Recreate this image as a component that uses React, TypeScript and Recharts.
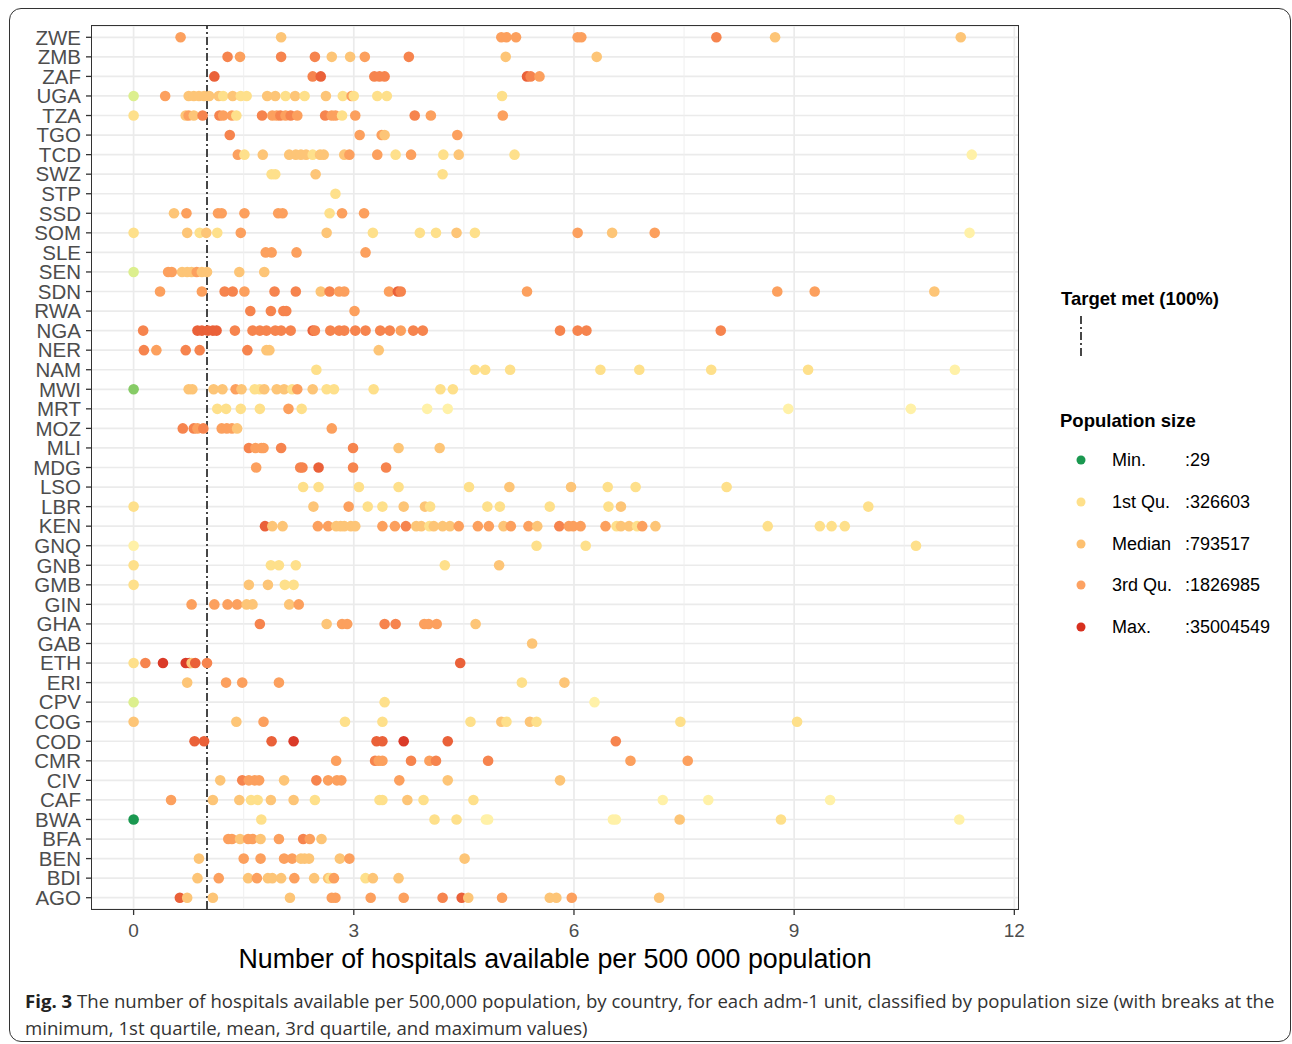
import { CartesianGrid, ReferenceLine, Scatter, ScatterChart, XAxis, YAxis } from 'recharts';

// countries bottom -> top (alphabetical, as on the y axis)
const countries = [
  'AGO', 'BDI', 'BEN', 'BFA', 'BWA', 'CAF', 'CIV', 'CMR', 'COD', 'COG', 'CPV', 'ERI', 'ETH', 'GAB', 'GHA',
  'GIN', 'GMB', 'GNB', 'GNQ', 'KEN', 'LBR', 'LSO', 'MDG', 'MLI', 'MOZ', 'MRT', 'MWI', 'NAM', 'NER', 'NGA',
  'RWA', 'SDN', 'SEN', 'SLE', 'SOM', 'SSD', 'STP', 'SWZ', 'TCD', 'TGO', 'TZA', 'UGA', 'ZAF', 'ZMB', 'ZWE',
];

// hospitals per 500 000 population, one value per adm-1 unit
const rates: number[][] = [
  [0.63, 0.73, 1.08, 2.13, 2.7, 2.75, 3.23, 3.68, 4.21, 4.47, 4.56, 5.02, 5.67, 5.76, 5.97, 7.16],
  [0.87, 1.16, 1.56, 1.68, 1.83, 1.89, 2.01, 2.19, 2.46, 2.65, 2.68, 2.73, 3.16, 3.26, 3.61],
  [0.89, 1.5, 1.73, 2.05, 2.16, 2.28, 2.33, 2.39, 2.81, 2.94, 4.51],
  [1.29, 1.34, 1.45, 1.56, 1.62, 1.73, 1.98, 2.31, 2.4, 2.56],
  [0, 1.74, 4.1, 4.4, 4.8, 4.83, 6.53, 6.57, 7.44, 8.82, 11.25],
  [0.51, 1.08, 1.44, 1.6, 1.69, 1.87, 2.18, 2.47, 3.35, 3.39, 3.73, 3.95, 4.63, 7.21, 7.83, 9.49],
  [1.18, 1.48, 1.57, 1.65, 1.71, 2.05, 2.49, 2.65, 2.77, 2.83, 3.62, 4.28, 5.81],
  [2.76, 3.29, 3.34, 3.39, 3.78, 4.03, 4.12, 4.83, 6.77, 7.55],
  [0.83, 0.96, 1.88, 2.18, 3.31, 3.39, 3.68, 4.28, 6.57],
  [0, 1.4, 1.77, 2.88, 3.39, 4.59, 5.01, 5.08, 5.4, 5.49, 7.45, 9.04],
  [0, 3.42, 6.28],
  [0.73, 1.26, 1.48, 1.98, 5.29, 5.87],
  [0, 0.16, 0.4, 0.71, 0.76, 0.79, 0.84, 1.0, 4.45],
  [5.43],
  [1.72, 2.63, 2.84, 2.91, 3.42, 3.57, 3.96, 4.02, 4.13, 4.66],
  [0.79, 1.1, 1.28, 1.41, 1.54, 1.62, 2.12, 2.25],
  [0, 1.57, 1.83, 2.06, 2.18],
  [0, 1.87, 1.98, 2.21, 4.24, 4.98],
  [0, 5.49, 6.16, 10.66],
  [1.79, 1.89, 2.03, 2.51, 2.65, 2.76, 2.82, 2.87, 2.96, 3.02, 3.39, 3.56, 3.71, 3.85, 3.92, 4.03, 4.09, 4.21,
    4.31, 4.43, 4.69, 4.84, 5.04, 5.14, 5.38, 5.5, 5.8, 5.93, 5.99, 6.09, 6.43, 6.58, 6.64, 6.75, 6.86, 6.93,
    7.11, 8.64, 9.35, 9.51, 9.69],
  [0, 2.45, 2.93, 3.19, 3.39, 3.68, 3.97, 4.04, 4.82, 4.99, 5.67, 6.47, 6.64, 10.01],
  [2.31, 2.52, 3.07, 3.61, 4.57, 5.12, 5.96, 6.46, 6.84, 8.08],
  [1.67, 2.27, 2.3, 2.52, 2.99, 3.44],
  [1.57, 1.66, 1.74, 1.77, 2.01, 2.99, 3.61, 4.17],
  [0.67, 0.82, 0.87, 0.95, 1.2, 1.27, 1.34, 1.41, 2.7],
  [1.14, 1.26, 1.46, 1.72, 2.11, 2.29, 4.0, 4.28, 8.92, 10.59],
  [0, 0.75, 0.8, 1.09, 1.21, 1.39, 1.47, 1.65, 1.72, 1.78, 1.95, 2.05, 2.16, 2.23, 2.44, 2.63, 2.73, 3.27, 4.18, 4.35],
  [2.49, 4.65, 4.79, 5.13, 6.36, 6.89, 7.87, 9.19, 11.19],
  [0.14, 0.31, 0.71, 0.9, 1.55, 1.81, 1.85, 3.34],
  [0.13, 0.87, 0.93, 1.01, 1.08, 1.13, 1.38, 1.62, 1.72, 1.81, 1.93, 2.01, 2.14, 2.44, 2.47, 2.68, 2.8, 2.87,
    3.02, 3.16, 3.36, 3.49, 3.64, 3.81, 3.94, 5.81, 6.05, 6.17, 8.0],
  [1.59, 1.87, 2.04, 2.08, 3.01],
  [0.36, 0.93, 1.24, 1.35, 1.51, 1.92, 2.21, 2.55, 2.67, 2.8, 2.87, 3.48, 3.6, 3.64, 5.36, 8.77, 9.28, 10.91],
  [0, 0.47, 0.52, 0.66, 0.73, 0.79, 0.86, 0.93, 1.0, 1.44, 1.78],
  [1.8, 1.88, 2.22, 3.16],
  [0, 0.73, 0.9, 0.99, 1.14, 1.46, 2.63, 3.26, 3.9, 4.12, 4.4, 4.65, 6.05, 6.52, 7.1, 11.39],
  [0.55, 0.72, 1.15, 1.2, 1.51, 1.97, 2.03, 2.67, 2.84, 3.14],
  [2.75],
  [1.88, 1.93, 2.48, 4.21],
  [1.42, 1.51, 1.76, 2.12, 2.21, 2.28, 2.35, 2.44, 2.54, 2.59, 2.87, 2.94, 3.32, 3.57, 3.78, 4.22, 4.43, 5.19, 11.42],
  [1.31, 3.08, 3.38, 3.42, 4.41],
  [0, 0.71, 0.75, 0.82, 0.94, 1.17, 1.22, 1.34, 1.4, 1.75, 1.89, 1.95, 2.0, 2.07, 2.14, 2.23, 2.61, 2.7, 2.75,
    2.84, 3.02, 3.83, 4.05, 5.03],
  [0, 0.43, 0.75, 0.82, 0.89, 0.96, 1.03, 1.16, 1.22, 1.35, 1.46, 1.54, 1.82, 1.93, 2.07, 2.2, 2.33, 2.62, 2.85,
    2.97, 3.0, 3.32, 3.45, 5.02],
  [1.1, 2.44, 2.55, 3.28, 3.35, 3.42, 5.36, 5.41, 5.53],
  [1.28, 1.45, 2.01, 2.47, 2.7, 2.95, 3.15, 3.75, 5.07, 6.31],
  [0.64, 2.01, 5.01, 5.08, 5.21, 6.05, 6.1, 7.94, 8.74, 11.27],
];

// population class of each unit, one letter per value above
// G/g/p = smallest, v/y = around 1st qu., m = median, o/d = 3rd qu., r/R = largest
const popClass: string[] = [
  'rmmmoooodrmommom', 'momommmommyoymm', 'moooommmmom', 'oomoomodom', 'Gyyyvvvvmyv',
  'ommyymmyyymyyvvv', 'mdooomdoooomm', 'odoododdoo', 'rrrRrrRrd', 'mmoyyymymyyy',
  'pyv', 'moooym', 'ydRRRmrdr', 'm', 'dmooddooom',
  'oooommmo', 'ymmyy', 'yyyyym', 'vyyy',
  'rmm' + 'oo' + 'mmmmm' + 'ood' + 'mmymmmo' + 'oo' + 'moom' + 'dooo' + 'oymmyom' + 'yyyy',
  'ymoyymmyyyyymy', 'yyyyymmyyy', 'oddrdd', 'doooddmm', 'ddodooomo',
  'yyyyoyvvvv', 'gmmmmomyymmmyomyyyyy', 'yyyyyyyyv', 'dodddmmm',
  'drrrrr' + 'ddddddd' + 'r' + 'dddddddd' + 'o' + 'dd' + 'dddd',
  'ddddo', 'ooddoddmdooordooom', 'poommmommmm', 'oooo', 'ymymyomyyymyomov',
  'mooooooyoo', 'y', 'yymy', 'oymmmmmymmmooyoymyv', 'doomo',
  'ymomddooydoodododooyodoo', 'pommmmmmymyymmymymyoyyyy', 'rdrdddrdo', 'doddmmodmm', 'omooooodmm',
];

const legendNames = ['Min.', '1st Qu.', 'Median', '3rd Qu.', 'Max.'];
const legendValues = [':29', ':326603', ':793517', ':1826985', ':35004549'];

const xTicks = [0, 3, 6, 9, 12];
const xMinor = [1.5, 4.5, 7.5, 10.5];
const target = 1;

const palette: Record<string, string> = {
  G: '#1A9850',
  g: '#86CB66',
  p: '#DCEF8E',
  v: '#FFF1A8',
  y: '#FEE08B',
  m: '#FDC577',
  o: '#FCA05E',
  d: '#F6844E',
  r: '#EA6139',
  R: '#DA3A28',
};
const legendColors = ['#1A9850', '#FEE08B', '#FDC070', '#FDA262', '#D7301F'];

const points = countries.flatMap((c, i) =>
  rates[i].map((v, j) => ({ x: v, y: i, country: c, cls: popClass[i][j] })),
);

const SANS = '"Liberation Sans", Arial, sans-serif';

function Dot(props: any) {
  const { cx, cy, payload } = props;
  if (cx == null || cy == null) return null;
  return <circle cx={cx} cy={cy} r={5.3} fill={palette[payload.cls]} />;
}

function Legend() {
  return (
    <div style={{ position: 'absolute', left: 0, top: 0, fontFamily: SANS, color: '#000' }}>
      <div style={{ position: 'absolute', left: 1061, top: 290, fontSize: 18.5, fontWeight: 700, lineHeight: 1, whiteSpace: 'nowrap' }}>
        Target met (100%)
      </div>
      <svg style={{ position: 'absolute', left: 1076, top: 314 }} width={10} height={46}>
        <line x1={5} x2={5} y1={2} y2={44} stroke="#333" strokeWidth={1.8} strokeDasharray="8 3 2 3" />
      </svg>
      <div style={{ position: 'absolute', left: 1060, top: 412, fontSize: 18.5, fontWeight: 700, lineHeight: 1, whiteSpace: 'nowrap' }}>
        Population size
      </div>
      {legendNames.map((n, i) => {
        const cy = 460 + i * 41.8;
        return (
          <div key={n}>
            <svg style={{ position: 'absolute', left: 1075, top: cy - 6 }} width={12} height={12}>
              <circle cx={6} cy={6} r={4.5} fill={legendColors[i]} />
            </svg>
            <div style={{ position: 'absolute', left: 1112, top: cy - 9, fontSize: 18, lineHeight: 1, whiteSpace: 'nowrap' }}>{n}</div>
            <div style={{ position: 'absolute', left: 1185, top: cy - 9, fontSize: 18, lineHeight: 1, whiteSpace: 'nowrap' }}>
              {legendValues[i]}
            </div>
          </div>
        );
      })}
    </div>
  );
}

export default function App() {
  return (
    <div style={{ position: 'absolute', left: 0, top: 0, width: 1292, height: 1044, background: '#fff' }}>
      <div
        style={{
          position: 'absolute', left: 9, top: 8, width: 1282, height: 1034,
          border: '1.5px solid #333', borderRadius: 12, boxSizing: 'border-box',
        }}
      />
      <ScatterChart width={1292} height={1044} margin={{ top: 26, right: 274, bottom: 95, left: 12 }}>
        <CartesianGrid stroke="#EBEBEB" strokeWidth={1.7} vertical={false} />
        <CartesianGrid stroke="#EBEBEB" strokeWidth={1.7} horizontal={false} verticalValues={xTicks} />
        <CartesianGrid stroke="#EFEFEF" strokeWidth={1} horizontal={false} verticalValues={xMinor} />
        <XAxis
          type="number"
          dataKey="x"
          domain={[-0.567, 12.05]}
          ticks={xTicks}
          allowDataOverflow
          axisLine={false}
          tickSize={6}
          tickMargin={9}
          tickLine={{ stroke: '#333', strokeWidth: 1.3 }}
          tick={{ fill: '#4D4D4D', fontSize: 19, fontFamily: SANS }}
          height={40}
        />
        <YAxis
          type="number"
          dataKey="y"
          domain={[-0.578, 44.578]}
          ticks={countries.map((_, i) => i)}
          interval={0}
          allowDataOverflow
          axisLine={false}
          tickSize={6}
          tickMargin={5}
          tickLine={{ stroke: '#333', strokeWidth: 1.3 }}
          tickFormatter={(i: number) => countries[i] ?? ''}
          tick={{ fill: '#4D4D4D', fontSize: 20.5, fontFamily: SANS }}
          width={80}
        />
        <Scatter data={points} shape={Dot} isAnimationActive={false} />
        <ReferenceLine x={target} stroke="#333" strokeWidth={1.8} strokeDasharray="8 3 2 3" />
      </ScatterChart>
      {/* panel border */}
      <div
        style={{
          position: 'absolute', left: 91, top: 25, width: 928, height: 885, zIndex: 3,
          border: '1.5px solid #333', boxSizing: 'border-box', pointerEvents: 'none',
        }}
      />
      <div
        style={{
          position: 'absolute', left: 92, width: 926, top: 946, textAlign: 'center',
          fontFamily: SANS, fontSize: 26.8, lineHeight: 1, color: '#000', whiteSpace: 'nowrap',
        }}
      >
        Number of hospitals available per 500 000 population
      </div>
      <Legend />
      <div
        style={{
          position: 'absolute', left: 25, top: 987, fontFamily: '"Open Sans", sans-serif',
          fontSize: 18.6, lineHeight: '27px', color: '#333', whiteSpace: 'nowrap',
        }}
      >
        <span style={{ fontWeight: 700, color: '#222' }}>Fig. 3</span> The number of hospitals available per
        500,000 population, by country, for each adm-1 unit, classified by population size (with breaks at the
        <br />
        minimum, 1st quartile, mean, 3rd quartile, and maximum values)
      </div>
    </div>
  );
}
